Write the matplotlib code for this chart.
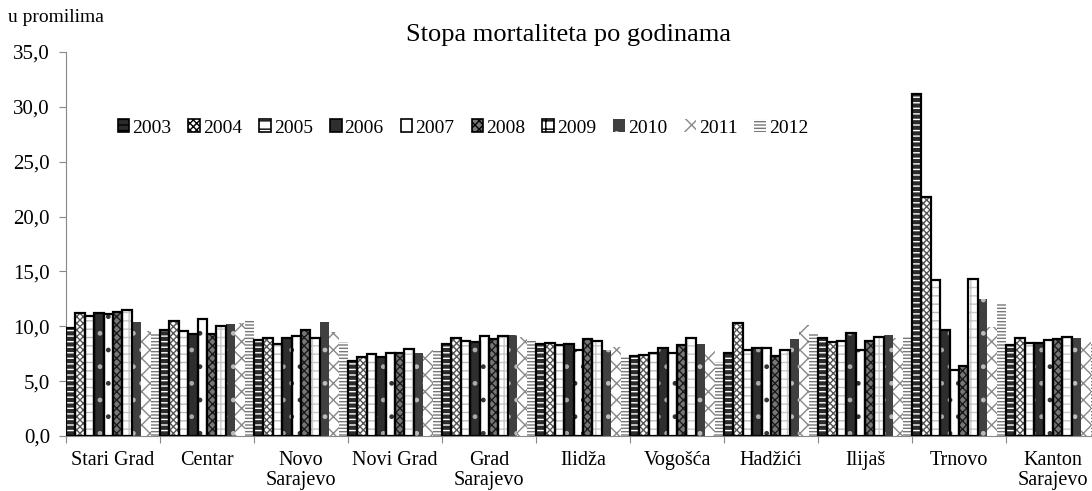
import matplotlib
matplotlib.use("Agg")
import matplotlib.pyplot as plt
import numpy as np
from matplotlib.ticker import FuncFormatter, FixedLocator
from matplotlib.patches import Patch

plt.rcParams['font.family'] = ['Liberation Serif', 'DejaVu Serif']

categories = ["Stari Grad", "Centar", "Novo\nSarajevo", "Novi Grad", "Grad\nSarajevo",
              "Ilidža", "Vogošća", "Hadžići", "Ilijaš", "Trnovo", "Kanton\nSarajevo"]
years = ["2003", "2004", "2005", "2006", "2007", "2008", "2009", "2010", "2011", "2012"]

v2003 = [9.85, 9.7, 8.75, 6.85, 8.35, 8.35, 7.3, 7.55, 8.9, 31.2, 8.3]
v2004 = [11.2, 10.5, 8.95, 7.2, 8.95, 8.5, 7.4, 10.3, 8.6, 21.75, 8.9]
v2005 = [10.9, 9.6, 8.35, 7.5, 8.65, 8.3, 7.55, 7.8, 8.7, 14.2, 8.5]
v2006 = [11.2, 9.3, 8.9, 7.2, 8.6, 8.35, 8.05, 8.0, 9.4, 9.7, 8.5]
v2007 = [11.1, 10.7, 9.15, 7.6, 9.15, 7.8, 7.6, 8.0, 7.85, 6.0, 8.75]
v2008 = [11.3, 9.3, 9.65, 7.6, 8.85, 8.8, 8.3, 7.3, 8.7, 6.4, 8.8]
v2009 = [11.5, 10.05, 8.95, 7.9, 9.15, 8.7, 8.9, 7.85, 9.0, 14.35, 9.0]
v2010 = [10.4, 10.2, 10.35, 7.6, 9.2, 7.85, 8.4, 8.8, 9.25, 12.5, 8.95]
v2011 = [9.6, 10.3, 9.5, 7.8, 9.05, 8.15, 7.8, 10.1, 8.9, 9.9, 8.6]
v2012 = [9.4, 10.6, 8.6, 7.75, 8.85, 7.3, 6.7, 9.4, 9.0, 12.15, 8.5]
series = [v2003, v2004, v2005, v2006, v2007, v2008, v2009, v2010, v2011, v2012]

# (face, hatch, hatch colour, outlined)
styles = [
    ("#2b2b2b", "---", "white", True),
    ("white", "xxxxx", "#555555", True),
    ("white", "--", "#bbbbbb", True),
    ("#2e2e2e", ".", "#aaaaaa", True),
    ("white", ".", "#333333", True),
    ("#777777", "xxxx", "#1a1a1a", True),
    ("white", "++", "#c8c8c8", True),
    ("#404040", ".", "#bbbbbb", False),
    ("white", "xx", "#888888", False),
    ("white", "-----", "#777777", False),
]

fig = plt.figure(figsize=(10.92, 4.91), dpi=100)
ax = fig.add_axes([66/1092, 1-436/491, 1034/1092, 384/491])

n = len(categories)
x = np.arange(n)
bw = 0.1
for j, (vals, (fc, h, hc, outl)) in enumerate(zip(series, styles)):
    xs = x + j*bw
    ax.bar(xs, vals, width=bw, align='edge', color=fc, hatch=h, edgecolor=hc, linewidth=0, zorder=2)
    if outl:
        ax.bar(xs, vals, width=bw, align='edge', fill=False, edgecolor='black', linewidth=1.6, zorder=3)

ax.set_xlim(0, n)
ax.set_ylim(0, 35)
ax.set_yticks(np.arange(0, 35.1, 5))
ax.yaxis.set_major_formatter(FuncFormatter(lambda v, p: f"{v:.1f}".replace(".", ",")))
ax.xaxis.set_major_locator(FixedLocator(np.arange(0, n+1)))
ax.xaxis.set_minor_locator(FixedLocator(x + 0.5))
ax.set_xticklabels([""]*(n+1))
ax.set_xticklabels(categories, minor=True, linespacing=1.05)
ax.tick_params(axis='x', which='minor', length=0, labelsize=14.5, pad=11)
ax.tick_params(axis='x', which='major', length=5, color='#888888')
ax.tick_params(axis='y', length=5, color='#888888', labelsize=15, pad=6.5)
for s in ['top', 'right']:
    ax.spines[s].set_visible(False)
for s in ['left', 'bottom']:
    ax.spines[s].set_color('#888888')

fig.text(568/1092, 1-35/491, "Stopa mortaliteta po godinama", ha='center', va='center', fontsize=19)
fig.text(8/1092, 1-18/491, "u promilima", ha='left', va='center', fontsize=14)

handles = []
for (fc, h, hc, outl) in styles:
    handles.append(Patch(facecolor=fc, hatch=h, edgecolor=('black' if outl else hc), linewidth=1.2 if outl else 0))
leg = ax.legend(handles, years, ncol=10, loc='center', bbox_to_anchor=(463/1092, 1-128/491),
                bbox_transform=fig.transFigure, frameon=False, fontsize=14,
                handlelength=0.6, handleheight=0.6, handletextpad=0.15, columnspacing=0.88)

fig.savefig("out.png", dpi=100)
